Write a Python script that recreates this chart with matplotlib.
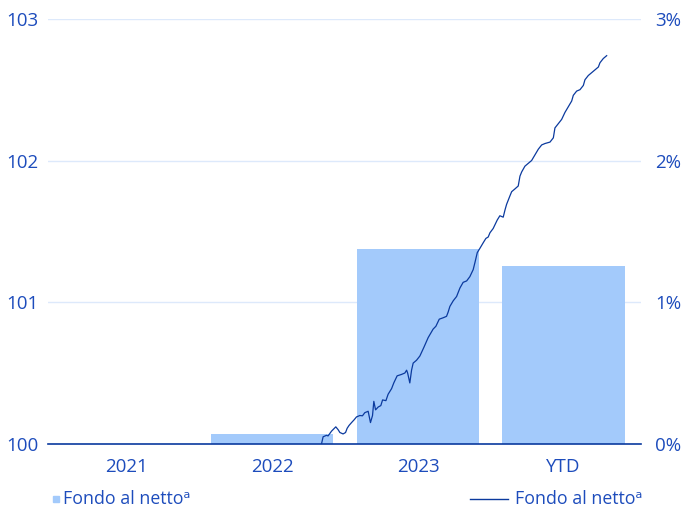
import matplotlib.pyplot as plt
from matplotlib.lines import Line2D
from matplotlib.patches import Rectangle

plt.rcParams['font.family'] = ['Open Sans', 'DejaVu Sans']

categories = ['2021', '2022', '2023', 'YTD']
bar_pct = [0.0, 0.07, 1.376, 1.256]

# index line, x in category-position units
line_x = [1.338, 1.349, 1.372, 1.383, 1.407, 1.436, 1.452, 1.464, 1.486, 1.503,
          1.514, 1.527, 1.544, 1.562, 1.578, 1.601, 1.619, 1.635, 1.658, 1.674,
          1.688, 1.697, 1.709, 1.727, 1.745, 1.757, 1.780, 1.795, 1.819, 1.834,
          1.857, 1.887, 1.910, 1.922, 1.929, 1.944, 1.956, 1.967, 1.990, 2.013,
          2.040, 2.070, 2.087, 2.104, 2.123, 2.146, 2.173, 2.196, 2.207, 2.219,
          2.242, 2.265, 2.288, 2.310, 2.334, 2.356, 2.379, 2.391, 2.407, 2.425,
          2.448, 2.466, 2.482, 2.494, 2.516, 2.544, 2.562, 2.585, 2.597, 2.608,
          2.631, 2.643, 2.666, 2.688, 2.700, 2.712, 2.734, 2.757, 2.780, 2.803,
          2.826, 2.849, 2.872, 2.906, 2.929, 2.940, 2.963, 2.986, 3.009, 3.032,
          3.055, 3.066, 3.089, 3.112, 3.135, 3.146, 3.169, 3.192, 3.215, 3.238,
          3.249, 3.272, 3.295]
line_y = [100.00, 100.05, 100.06, 100.056, 100.09, 100.12, 100.10, 100.08, 100.07, 100.08,
          100.11, 100.13, 100.15, 100.17, 100.19, 100.20, 100.198, 100.22, 100.23, 100.15,
          100.20, 100.30, 100.24, 100.26, 100.27, 100.31, 100.305, 100.35, 100.39, 100.43,
          100.48, 100.49, 100.50, 100.52, 100.50, 100.43, 100.52, 100.57, 100.59, 100.62,
          100.68, 100.75, 100.78, 100.81, 100.83, 100.88, 100.89, 100.90, 100.93, 100.97,
          101.01, 101.04, 101.10, 101.14, 101.15, 101.18, 101.23, 101.28, 101.35, 101.38,
          101.42, 101.45, 101.46, 101.49, 101.52, 101.58, 101.61, 101.60, 101.65, 101.69,
          101.75, 101.78, 101.80, 101.82, 101.89, 101.92, 101.96, 101.98, 102.00, 102.04,
          102.08, 102.11, 102.12, 102.13, 102.16, 102.23, 102.26, 102.29, 102.34, 102.38,
          102.42, 102.46, 102.49, 102.50, 102.53, 102.57, 102.60, 102.62, 102.64, 102.66,
          102.69, 102.72, 102.74]

left_ticks = [100, 101, 102, 103]
right_ticks = [0, 1, 2, 3]
legend_label = 'Fondo al netto\u1d43'

text_col = '#1d4cbc'
line_col = '#0b3a9e'
bar_col = '#a3cafb'
grid_col = '#dde9fb'
fs = 13.5
legend_fs = 12.8

fig = plt.figure(figsize=(6.84, 5.09), dpi=100)
ax = fig.add_axes([0.070, 0.128, 0.867, 0.835])

x = list(range(len(categories)))
ax.bar(x, bar_pct, bottom=100, width=0.84, color=bar_col, zorder=2)
ax.plot(line_x, line_y, color=line_col, linewidth=0.9, zorder=3)

ax.set_xlim(-0.54, 3.53)
ax.set_ylim(100, 103)
ax.set_yticks(left_ticks)
ax.set_xticks(x)
ax.set_xticklabels(categories)
ax.grid(axis='y', color=grid_col, linewidth=1.0, zorder=0)
ax.set_axisbelow(True)

for s in ['top', 'right', 'left']:
    ax.spines[s].set_visible(False)
ax.spines['bottom'].set_color(line_col)
ax.spines['bottom'].set_linewidth(1.2)
ax.spines['bottom'].set_zorder(4)

ax.tick_params(axis='both', length=0, labelsize=fs, colors=text_col)
ax.tick_params(axis='x', pad=10)
ax.tick_params(axis='y', pad=7)

ax2 = ax.secondary_yaxis('right', functions=(lambda v: v - 100, lambda p: p + 100))
ax2.set_yticks(right_ticks)
ax2.set_yticklabels([f'{t}%' for t in right_ticks])
ax2.tick_params(length=0, labelsize=fs, colors=text_col, pad=10)
for s in ax2.spines.values():
    s.set_visible(False)

# bottom legend
fig.patches.append(Rectangle((0.0775, 0.0145), 0.0085, 0.0115, transform=fig.transFigure,
                             color=bar_col, figure=fig))
fig.text(0.092, 0.019, legend_label, fontsize=legend_fs, color=text_col, va='center', ha='left')
fig.lines.append(Line2D([0.687, 0.742], [0.020, 0.020], transform=fig.transFigure,
                        color=line_col, linewidth=1.0))
fig.text(0.753, 0.019, legend_label, fontsize=legend_fs, color=text_col, va='center', ha='left')

fig.savefig('out.png', dpi=100)
